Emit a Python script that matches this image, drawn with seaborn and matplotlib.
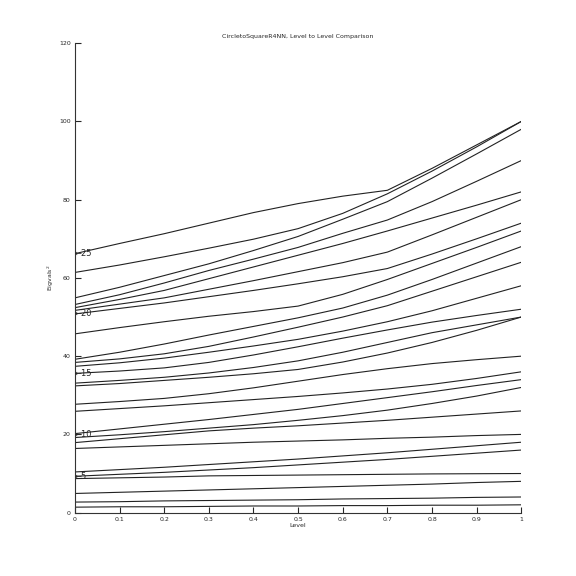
import numpy as np
import pandas as pd
import matplotlib
matplotlib.use("Agg")
import matplotlib.pyplot as plt
import seaborn as sns

# levels along the x axis
levels = [0.0, 0.1, 0.2, 0.3, 0.4, 0.5, 0.6, 0.7, 0.8, 0.9, 1.0]

# eigenvalue curves (one list per curve)
c01 = [1.4, 1.5, 1.5, 1.6, 1.7, 1.7, 1.8, 1.8, 1.9, 1.9, 2.0]
c02 = [2.7, 2.8, 3.0, 3.1, 3.2, 3.3, 3.5, 3.6, 3.7, 3.9, 4.0]
c03 = [4.9, 5.2, 5.5, 5.8, 6.1, 6.4, 6.7, 7.0, 7.3, 7.7, 8.0]
c04 = [8.7, 8.9, 9.1, 9.4, 9.5, 9.6, 9.7, 9.8, 9.9, 9.95, 10.0]
c05 = [9.3, 9.8, 10.3, 10.9, 11.5, 12.2, 12.9, 13.6, 14.4, 15.2, 16.0]
c06 = [10.4, 11.0, 11.6, 12.3, 13.0, 13.7, 14.5, 15.3, 16.2, 17.1, 18.0]
c07 = [16.4, 16.8, 17.2, 17.6, 18.0, 18.3, 18.6, 19.0, 19.3, 19.7, 20.0]
c08 = [17.9, 18.9, 19.9, 20.9, 21.6, 22.2, 22.9, 23.6, 24.4, 25.2, 26.0]
c09 = [19.2, 19.9, 20.7, 21.6, 22.5, 23.6, 24.8, 26.2, 27.9, 29.8, 32.0]
c10 = [20.2, 21.4, 22.6, 23.8, 25.1, 26.4, 27.9, 29.4, 30.9, 32.5, 34.0]
c11 = [25.9, 26.6, 27.3, 28.1, 28.9, 29.7, 30.6, 31.6, 32.8, 34.3, 36.0]
c12 = [27.7, 28.4, 29.2, 30.4, 31.9, 33.6, 35.3, 36.8, 38.1, 39.1, 40.0]
c13 = [32.4, 33.0, 33.8, 34.6, 35.5, 36.6, 38.5, 40.8, 43.5, 46.6, 50.0]
c14 = [33.1, 33.8, 34.6, 35.7, 37.1, 38.8, 41.0, 43.5, 46.0, 48.0, 50.0]
c15 = [35.6, 36.2, 37.0, 38.4, 40.3, 42.4, 44.6, 46.7, 48.7, 50.4, 52.0]
c16 = [37.4, 38.3, 39.5, 41.0, 42.6, 44.3, 46.4, 48.8, 51.6, 54.8, 58.0]
c17 = [38.4, 39.3, 40.6, 42.5, 44.9, 47.4, 50.0, 52.9, 56.6, 60.3, 64.0]
c18 = [39.2, 41.0, 43.1, 45.4, 47.6, 49.8, 52.3, 55.6, 59.6, 63.8, 68.0]
c19 = [45.7, 47.3, 48.8, 50.2, 51.4, 52.8, 55.8, 59.6, 63.7, 67.8, 72.0]
c20 = [50.8, 52.2, 53.6, 55.2, 56.8, 58.5, 60.3, 62.4, 66.1, 70.0, 74.0]
c21 = [51.7, 53.3, 54.9, 57.1, 59.3, 61.6, 63.9, 66.6, 71.0, 75.5, 80.0]
c22 = [52.4, 54.5, 56.8, 59.8, 62.8, 65.8, 68.8, 72.0, 75.3, 78.6, 82.0]
c23 = [53.2, 55.7, 58.7, 61.9, 64.8, 67.8, 71.4, 74.8, 79.5, 84.7, 90.0]
c24 = [54.9, 57.6, 60.6, 63.6, 67.0, 70.6, 75.0, 79.5, 85.5, 91.7, 98.0]
c25 = [61.4, 63.3, 65.4, 67.6, 69.9, 72.6, 76.5, 81.5, 87.3, 93.5, 100.0]
c26 = [66.2, 68.8, 71.3, 74.0, 76.7, 79.0, 80.9, 82.4, 88.0, 94.0, 100.0]
curves = [c01, c02, c03, c04, c05, c06, c07, c08, c09, c10, c11, c12, c13,
          c14, c15, c16, c17, c18, c19, c20, c21, c22, c23, c24, c25, c26]

# labelled eigenvalue indices and where their arrows point at level 0
label_k = [5, 10, 15, 20, 25]
label_y = [9.3, 20.0, 35.6, 50.8, 66.2]

rows = []
for i, c in enumerate(curves):
    for lv, v in zip(levels, c):
        rows.append({"curve": i, "level": lv, "eig": v})
df = pd.DataFrame(rows)

sns.set_style("white")
plt.rcParams['font.family'] = ['DejaVu Sans']

fig = plt.figure(figsize=(5.76, 5.76), dpi=100)
ax = fig.add_axes([0.13, 0.11, 0.775, 0.815])

sns.lineplot(data=df, x="level", y="eig", units="curve", estimator=None,
             color="#222222", linewidth=0.8, ax=ax, legend=False)

for k, y in zip(label_k, label_y):
    ax.text(0.0, y, "\u2190" + str(k), fontsize=6, va="center", ha="left")

ax.set_xlim(0, 1)
ax.set_ylim(0, 120)
ax.set_xticks(levels)
ax.set_xticklabels(["0", "0.1", "0.2", "0.3", "0.4", "0.5", "0.6", "0.7", "0.8", "0.9", "1"])
ax.set_yticks([0, 20, 40, 60, 80, 100, 120])
ax.tick_params(direction="in", length=4, width=0.8, labelsize=4.5, pad=3,
               left=True, bottom=True)
for s in ["top", "right"]:
    ax.spines[s].set_visible(False)
for s in ["left", "bottom"]:
    ax.spines[s].set_color("#333333")
    ax.spines[s].set_linewidth(0.8)

ax.set_xlabel("Level", fontsize=4.5, labelpad=1)
ax.set_ylabel("Eigvals$^2$", fontsize=4.5, labelpad=2)
ax.set_title("CircletoSquareR4NN, Level to Level Comparison", fontsize=4.5, pad=4)

fig.savefig("out.png", dpi=100, facecolor="white")
